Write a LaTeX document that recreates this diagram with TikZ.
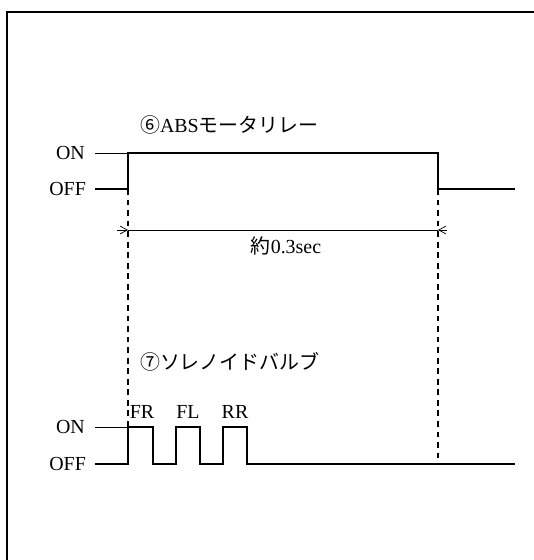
\documentclass[tikz,border=0pt]{standalone}
\usepackage{fontspec}
\setmainfont{Liberation Serif}
\newfontfamily\jp{Noto Sans CJK JP}
\usetikzlibrary{arrows.meta, calc}

\begin{document}
\begin{tikzpicture}[x=0.03cm, y=-0.03cm,
    sig/.style={line width=1.6pt},
    refl/.style={line width=0.6pt},
    guide/.style={line width=0.9pt, dash pattern=on 5pt off 4pt},
    dimarr/.style={-{Straight Barb[length=2.2mm, width=2.4mm]}, line width=0.6pt},
    lvl/.style={anchor=east, font=\fontsize{17}{20}\selectfont},
    ttl/.style={anchor=west, font=\fontsize{17}{20}\selectfont},
    lbl/.style={font=\fontsize{17}{20}\selectfont}
]
\useasboundingbox (0,0) rectangle (534,560);
\draw[line width=1.2pt] (7,560) -- (7,12) -- (534,12);

% motor relay
\node[ttl] (rtitle) at (136,125) {{\jp ⑥}ABS{\jp モータリレー}};
\node[lvl] (ron)  at (89,153) {ON};
\node[lvl] (roff) at (90,189) {OFF};
\draw[refl] (95,153) -- (128,153);
\draw[sig] (95,189) -- (128,189) -- (128,153) -- (438,153) -- (438,189) -- (515,189);

\coordinate (t0) at (128,189);
\coordinate (t1) at (438,189);

% time span
\coordinate (dl) at (128,230);
\coordinate (dr) at (438,230);
\draw[refl] (dl) -- (dr);
\draw[dimarr] ($(dl)+(-11,0)$) -- (dl);
\draw[dimarr] ($(dr)+(9,0)$) -- (dr);
\node[lbl] (span) at (286,246) {{\jp 約}0.3sec};

% solenoid valves
\node[ttl] (stitle) at (136,362) {{\jp ⑦ソレノイドバルブ}};
\node[lvl] (son)  at (89,427) {ON};
\node[lvl] (soff) at (90,464) {OFF};
\draw[refl] (95,427) -- (128,427);
\draw[sig] (95,464) -- (128,464) -- (128,427) -- (153,427) -- (153,464)
    -- (176,464) -- (176,427) -- (200,427) -- (200,464)
    -- (223,464) -- (223,427) -- (247,427) -- (247,464) -- (515,464);
\node[lbl] (fr) at (142,412) {FR};
\node[lbl] (fl) at (188,412) {FL};
\node[lbl] (rr) at (235,412) {RR};

\draw[guide] (t0) -- (128,427);
\draw[guide] (t1) -- (438,464);
\end{tikzpicture}
\end{document}
